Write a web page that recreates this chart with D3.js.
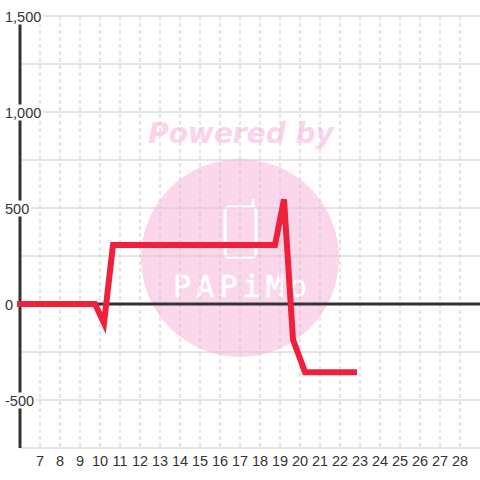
<!DOCTYPE html>
<html>
<head>
<meta charset="utf-8">
<script src="https://cdn.jsdelivr.net/npm/d3@7"></script>
<style>
  body { margin: 0; background: #fff; }
  svg { display: block; font-family: "Liberation Sans", Arial, sans-serif; }
</style>
</head>
<body>
<div id="chart"></div>
<script>
// series
var xs = [6, 9.75, 10.2, 10.65, 18.75, 19.2, 19.65, 20.25, 22.7];
var ys = [0, 0, -100, 307, 307, 545, -185, -355, -355];

var xTicks = d3.range(7, 29);          // 7 .. 28
var yLabels = [1500, 1000, 500, 0, -500];
var yGrid = d3.range(-750, 1501, 250);

var width = 480, height = 480;

var x = d3.scaleLinear().domain([6, 29]).range([20, 480]);
var y = d3.scaleLinear().domain([-750, 1500]).range([448, 16]);

var svg = d3.select("#chart").append("svg")
    .attr("width", width)
    .attr("height", height);

// watermark (behind the grid)
var wm = svg.append("g").attr("class", "watermark");
wm.append("circle")
    .attr("cx", 240).attr("cy", 258).attr("r", 99)
    .attr("fill", "#fcd6eb");
wm.append("text")
    .attr("x", 241).attr("y", 143)
    .attr("text-anchor", "middle")
    .attr("font-family", "DejaVu Sans")
    .attr("font-weight", "bold")
    .attr("font-style", "italic")
    .attr("font-size", 28)
    .attr("fill", "#fcd3ea")
    .text("Powered by");
wm.append("rect")
    .attr("x", 225).attr("y", 207).attr("width", 31).attr("height", 50).attr("rx", 4)
    .attr("fill", "none").attr("stroke", "#fff").attr("stroke-width", 3);
wm.append("line")
    .attr("x1", 253).attr("x2", 253).attr("y1", 199).attr("y2", 208)
    .attr("stroke", "#fff").attr("stroke-width", 3);
wm.append("text")
    .attr("x", 173).attr("y", 297)
    .attr("textLength", 134).attr("lengthAdjust", "spacing")
    .attr("font-family", "DejaVu Sans Mono")
    .attr("font-size", 30)
    .attr("fill", "#fff")
    .attr("stroke", "#fff").attr("stroke-width", 0.6)
    .text("PAPiMo");

// vertical dashed grid
svg.append("g").selectAll("line")
    .data(xTicks)
  .enter().append("line")
    .attr("x1", d => x(d)).attr("x2", d => x(d))
    .attr("y1", y(1500)).attr("y2", y(-750))
    .attr("stroke", "#c8c8c8")
    .attr("stroke-dasharray", "4,3");

// horizontal grid
svg.append("g").selectAll("line")
    .data(yGrid)
  .enter().append("line")
    .attr("x1", x(6)).attr("x2", 480)
    .attr("y1", d => y(d)).attr("y2", d => y(d))
    .attr("stroke", "#cccccc");

// zero line
svg.append("line")
    .attr("x1", x(6)).attr("x2", 480)
    .attr("y1", y(0)).attr("y2", y(0))
    .attr("stroke", "#333").attr("stroke-width", 3);

// y axis line
svg.append("line")
    .attr("x1", x(6)).attr("x2", x(6))
    .attr("y1", y(1500)).attr("y2", y(-750))
    .attr("stroke", "#333").attr("stroke-width", 3);

// y labels with white background
var fmt = d => d3.format(",")(d).replace("\u2212", "-");
var yl = svg.append("g").selectAll("g")
    .data(yLabels)
  .enter().append("g");
yl.append("text")
    .attr("x", 5).attr("y", d => y(d) + 5.5)
    .attr("font-size", 14.5)
    .attr("fill", "#333")
    .text(d => fmt(d));
yl.each(function() {
  var t = d3.select(this).select("text");
  var b = t.node().getBBox();
  d3.select(this).insert("rect", "text")
    .attr("x", b.x - 2).attr("y", b.y)
    .attr("width", b.width + 4).attr("height", b.height)
    .attr("fill", "#fff");
});

// x labels
svg.append("g").selectAll("text")
    .data(xTicks)
  .enter().append("text")
    .attr("x", d => x(d)).attr("y", 466)
    .attr("text-anchor", "middle")
    .attr("font-size", 14.5)
    .attr("fill", "#333")
    .text(d => d);

// series line
var line = d3.line()
    .x((d, i) => x(xs[i]))
    .y((d, i) => y(ys[i]));

svg.append("path")
    .datum(xs)
    .attr("d", line)
    .attr("fill", "none")
    .attr("stroke", "#ee203a")
    .attr("stroke-width", 6)
    .attr("stroke-linecap", "square");
</script>
</body>
</html>
